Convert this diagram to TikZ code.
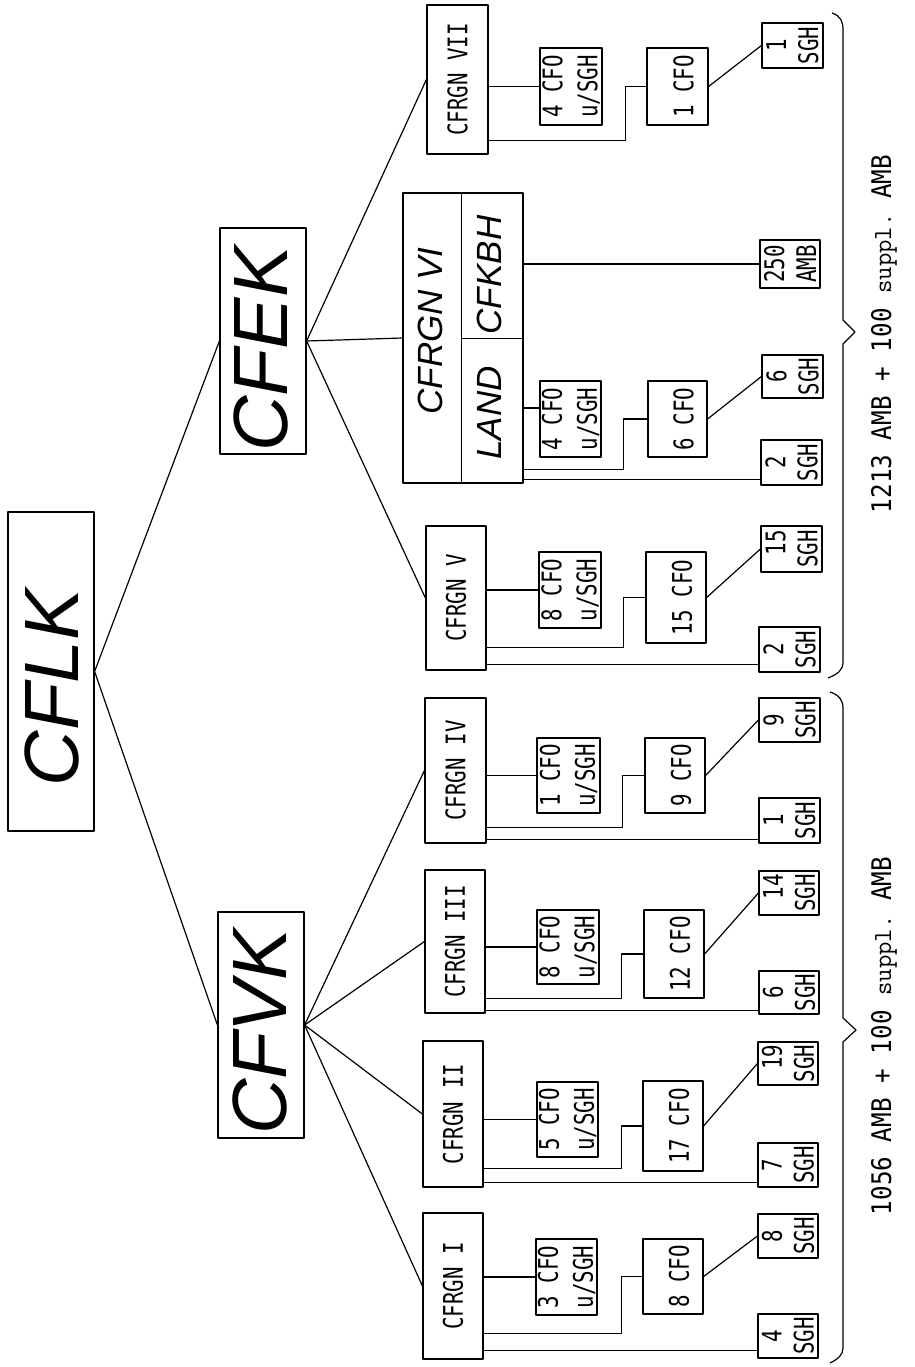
\documentclass[tikz,border=0pt]{standalone}
\usepackage{fontspec}
\usepackage{graphicx}
\setmainfont{Liberation Sans}
\newfontfamily\twfont{DejaVu Sans Mono}
\usetikzlibrary{calc}

\newcommand\twsz{\fontsize{27}{33}\selectfont}
\newcommand\sq[1]{\scalebox{0.77}[1]{#1}}
\newcommand\one[1]{\rotatebox{90}{\twfont\twsz\sq{#1}}}
\newcommand\onedn[1]{\rotatebox{90}{\twfont\twsz\raisebox{-6pt}[\height][\depth]{\sq{#1}}}}
\newcommand\two[3]{\rotatebox{90}{\twfont\twsz\baselineskip=#3\relax\vbox{\halign{\hfil##\hfil\cr\sq{#1}\cr\sq{#2}\cr}}}}
\newcommand\bigf{\itshape\fontsize{77}{80}\selectfont}
\newcommand\midf{\itshape\fontsize{35}{38}\selectfont}
\newcommand\totf[1]{\twfont\fontsize{27}{30}\selectfont\scalebox{0.9}[1]{#1 AMB + 100 }{\ttfamily\fontsize{26}{28}\selectfont suppl.}\scalebox{0.9}[1]{ AMB}}

\newcommand\bx[6]{%
  \pgfmathsetmacro\bxw{#4-#2}\pgfmathsetmacro\bxh{#5-#3}%
  \pgfmathsetmacro\bxx{(#2+#4)/2}\pgfmathsetmacro\bxy{(#3+#5)/2}%
  \node[nbox, minimum width=\bxw pt, minimum height=\bxh pt] (#1) at (\bxx,\bxy) {#6};}
\newcommand\elbow[4]{\draw ([yshift=#3pt]#1.south east) -- ++(#4,0) |- (#2.west);}
\newcommand\sghline[3]{\draw ([yshift=#3pt]#1.south east) coordinate (tmp) -- (#2.west |- tmp);}

\begin{document}
\begin{tikzpicture}[x=1pt,y=-1pt,
  every path/.style={line width=1.2pt, line join=round},
  nbox/.style={draw, line width=1.2pt, inner sep=0pt, rectangle}]
\useasboundingbox (0,0) rectangle (914,1367);

% top level
\bx{cflk}{8}{512}{94}{831}{}
\bx{cfek}{220}{228}{306}{454}{}
\bx{cfvk}{218}{912}{304}{1138}{}
\node[rotate=90, inner sep=0pt] (cflkt) at (52,688) {\bigf CFLK};
\node[rotate=90, inner sep=0pt] (cfekt) at (261,349) {\bigf CFEK};
\node[rotate=90, inner sep=0pt] (cfvkt) at (260,1032) {\bigf CFVK};

% regions
\bx{r7}{427}{5}{488}{154}{\one{CFRGN VII}}
\bx{r6}{403}{193}{523}{483}{}
\bx{r5}{426}{526}{486}{670}{\one{CFRGN V}}
\bx{r4}{425}{698}{486}{843}{\one{CFRGN IV}}
\bx{r3}{425}{870}{485}{1013}{\one{CFRGN III}}
\bx{r2}{423}{1041}{483}{1187}{\one{CFRGN II}}
\bx{r1}{423}{1213}{483}{1359}{\one{CFRGN I}}

\draw ([xshift=59pt]r6.north west) -- ([xshift=59pt]r6.south west);
\draw ([xshift=59pt,yshift=-146pt]r6.north west) -- ([yshift=-146pt]r6.north east);
\node[rotate=90, inner sep=0pt] (r6t) at (430,331) {\midf CFRGN VI};
\node[rotate=90, inner sep=0pt] (r6b) at (489,275) {\midf CFKBH};
\node[rotate=90, inner sep=0pt] (r6l) at (489,413) {\midf LAND};

% tree connectors
\draw (cflk.east) -- (cfek.west);
\draw (cflk.east) -- (cfvk.west);
\draw (cfek.east) -- (r7.west);
\draw (cfek.east) -- (r6.west);
\draw (cfek.east) -- (r5.west);
\draw (cfvk.east) -- (r4.west);
\draw (cfvk.east) -- (r3.west);
\draw (cfvk.east) -- (r2.west);
\draw (cfvk.east) -- (r1.west);

% VII
\bx{u7}{540}{48}{602}{125}{\two{4 CFO}{u/SGH}{35pt}}
\bx{c7}{647}{48}{708}{125}{\onedn{1 CFO}}
\bx{s7}{762}{23}{823}{68}{\two{1}{SGH}{32pt}}
\draw (u7.west -| r7.east) -- (u7.west);
\elbow{r7}{c7}{14}{137}
\draw (c7.east) -- (s7.west);

% VI
\bx{a6}{760}{240}{820}{288}{\two{250}{AMB}{32pt}}
\bx{u6}{540}{381}{601}{457}{\two{4 CFO}{u/SGH}{35pt}}
\bx{c6}{648}{381}{707}{457}{\onedn{6 CFO}}
\bx{s6a}{762}{355}{823}{398}{\two{6}{SGH}{32pt}}
\bx{s6b}{761}{440}{822}{485}{\two{2}{SGH}{32pt}}
\draw (a6.west -| r6.east) -- (a6.west);
\draw ([yshift=11pt]u6.west) coordinate (tmp) -- (tmp -| r6.east);
\elbow{r6}{c6}{14}{100}
\draw (c6.east) -- (s6a.west);
\sghline{r6}{s6b}{4}

% V
\bx{u5}{539}{552}{601}{628}{\two{8 CFO}{u/SGH}{35pt}}
\bx{c5}{646}{552}{706}{643}{\onedn{15 CFO}}
\bx{s5a}{761}{526}{822}{572}{\two{\phantom{0}15}{SGH}{32pt}}
\bx{s5b}{759}{627}{820}{672}{\two{2}{SGH}{32pt}}
\draw (u5.west -| r5.east) -- (u5.west);
\elbow{r5}{c5}{23}{137}
\draw (c5.east) -- (s5a.west);
\sghline{r5}{s5b}{6}

% IV
\bx{u4}{537}{738}{600}{813}{\two{1 CFO}{u/SGH}{35pt}}
\bx{c4}{645}{738}{705}{813}{\onedn{9 CFO}}
\bx{s4a}{759}{698}{820}{742}{\two{9}{SGH}{32pt}}
\bx{s4b}{759}{798}{820}{843}{\two{1}{SGH}{32pt}}
\draw (u4.west -| r4.east) -- (u4.west);
\elbow{r4}{c4}{16}{136}
\draw (c4.east) -- (s4a.west);
\sghline{r4}{s4b}{4}

% III
\bx{u3}{537}{910}{599}{984}{\two{8 CFO}{u/SGH}{35pt}}
\bx{c3}{644}{910}{704}{998}{\onedn{12 CFO}}
\bx{s3a}{759}{871}{819}{915}{\two{\phantom{0}14}{SGH}{32pt}}
\bx{s3b}{759}{971}{819}{1014}{\two{6}{SGH}{32pt}}
\draw (u3.west -| r3.east) -- (u3.west);
\elbow{r3}{c3}{15}{136}
\draw (c3.east) -- (s3a.west);
\sghline{r3}{s3b}{3}

% II
\bx{u2}{537}{1082}{598}{1157}{\two{5 CFO}{u/SGH}{35pt}}
\bx{c2}{643}{1081}{703}{1171}{\onedn{17 CFO}}
\bx{s2a}{758}{1042}{818}{1085}{\two{\phantom{0}19}{SGH}{32pt}}
\bx{s2b}{758}{1143}{818}{1187}{\two{7}{SGH}{32pt}}
\draw (u2.west -| r2.east) -- (u2.west);
\elbow{r2}{c2}{19}{138}
\draw (c2.east) -- (s2a.west);
\sghline{r2}{s2b}{5}

% I
\bx{u1}{536}{1239}{597}{1315}{\two{3 CFO}{u/SGH}{35pt}}
\bx{c1}{643}{1239}{703}{1314}{\onedn{8 CFO}}
\bx{s1a}{758}{1214}{818}{1258}{\two{8}{SGH}{32pt}}
\bx{s1b}{758}{1314}{818}{1358}{\two{4}{SGH}{32pt}}
\draw (u1.west -| r1.east) -- (u1.west);
\elbow{r1}{c1}{26}{138}
\draw (c1.east) -- (s1a.west);
\sghline{r1}{s1b}{9}

% braces
\draw (832,13) .. controls (841,16) and (843,22) .. (843,30) -- (843,320) -- (855,332) -- (843,344) -- (843,662) .. controls (843,670) and (838,674) .. (828,678);
\draw (830,692) .. controls (839,695) and (843,700) .. (843,708) -- (843,1018) -- (856,1030) -- (843,1042) -- (843,1348) .. controls (843,1355) and (838,1359) .. (830,1363);

% totals
\node[rotate=90, anchor=base, inner sep=0pt] (tot2) at (891,334) {\totf{1213}};
\node[rotate=90, anchor=base, inner sep=0pt] (tot1) at (891,1036) {\totf{1056}};
\end{tikzpicture}
\end{document}
